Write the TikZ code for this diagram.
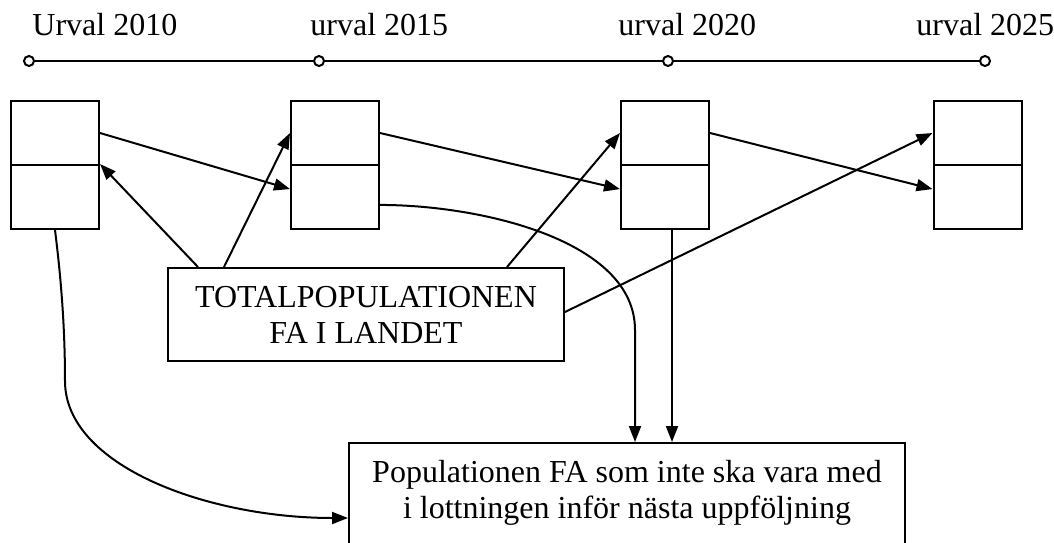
\documentclass[tikz,border=0pt]{standalone}
\usepackage{fontspec}
\setmainfont{Liberation Serif}
\usetikzlibrary{arrows.meta,calc}

\tikzset{
    txt/.style={font=\fontsize{16pt}{18pt}\selectfont},
    half/.style={draw, line width=1pt, minimum width=44pt, minimum height=32pt, inner sep=0pt},
    box/.style={draw, line width=1pt, txt, align=center},
    dot/.style={circle, draw, fill=white, line width=1pt, inner sep=0pt, minimum size=5pt},
    arr/.style={-{Triangle[length=8pt,width=6pt]}, line width=1pt}
}

\begin{document}
\begin{tikzpicture}[x=0.5pt, y=-0.5pt]
            \useasboundingbox (0,0) rectangle (1054,542);
            % timeline
            \foreach \n/\x/\lx/\label in {1/29/32/Urval 2010, 2/319/310/urval 2015, 3/668/618/urval 2020, 4/985/916/urval 2025}
            {
                \node[dot] (t\n) at (\x,61) {};
                \node[txt, anchor=base west, inner sep=0pt] (lab\n) at (\lx,35) {\label};
            }
            \draw[line width=1pt] (t1) -- (t2) -- (t3) -- (t4);

            % the four samples
            \foreach \n/\x in {1/55, 2/335, 3/665, 4/977.5}
            {
                \node[half] (up\n) at (\x,133) {};
                \node[half] (low\n) at (\x,197) {};
            }

            \node[box, minimum width=198pt, minimum height=46.5pt, inner sep=2pt] (tot) at (366,314.5) {TOTALPOPULATIONEN\\FA I LANDET};
            \node[box, anchor=north, minimum width=278pt, inner sep=8.5pt, text depth=6pt] (pop) at (627,442)
                {Populationen FA som inte ska vara med\\i lottningen inför nästa uppföljning};

            % sample to sample
            \draw[arr] (up1.east) -- (low2.170);
            \draw[arr] (up2.east) -- (low3.170);
            \draw[arr] (up3.east) -- (low4.170);

            % from the total population
            \draw[arr] ($(tot.north west)+(31,0)$) -- (low1.north east);
            \draw[arr] ($(tot.north west)+(57,0)$) -- (up2.west);
            \draw[arr] ($(tot.north west)+(340,0)$) -- (up3.west);
            \draw[arr] ($(tot.north east)+(0,45)$) -- (up4.west);

            % to the excluded population
            \draw[arr] ($(low3.south)+(7,0)$) coordinate (c3) -- (c3 |- pop.north);
            \draw[arr] (low2.-10) .. controls +(100,0) and +(0,-90) .. ($(pop.north)+(8,-112)$) -- ($(pop.north)+(8,0)$);
            \draw[arr] (low1.south) .. controls +(5,40) and +(0,-60) .. ++(10,151)
                .. controls +(0,85) and +(-140,0) .. ($(pop.north west)+(0,76)$);
\end{tikzpicture}
\end{document}
